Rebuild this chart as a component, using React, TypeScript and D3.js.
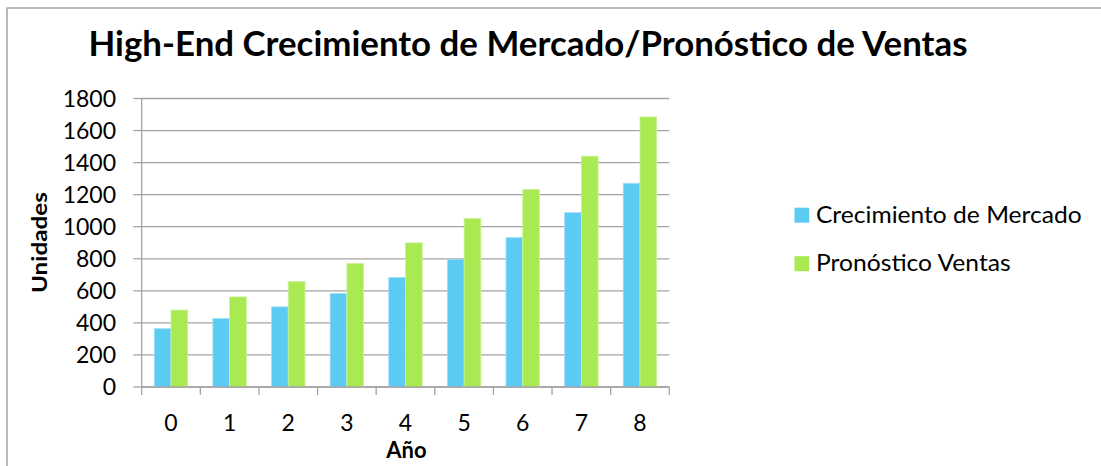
import React from "react";
import * as d3 from "d3";

const years = ["0", "1", "2", "3", "4", "5", "6", "7", "8"];
const seriesNames = ["Crecimiento de Mercado", "Pronóstico Ventas"];
const crecimiento = [364, 427, 500, 583, 683, 797, 932, 1088, 1271];
const pronostico = [480, 562, 658, 770, 899, 1051, 1232, 1440, 1685];
const yTicks = [0, 200, 400, 600, 800, 1000, 1200, 1400, 1600, 1800];
const colors = ["#5ccbf4", "#a9ea52"];
const title = "High-End Crecimiento de Mercado/Pronóstico de Ventas";

const W = 1101;
const H = 466;
const FONT = "Lato, 'Open Sans', sans-serif";

export default function App() {
  const left = 141.7;
  const right = 669.3;
  const top = 98.5;
  const bottom = 387;

  const x0 = d3.scaleBand<string>().domain(years).range([left, right]).padding(0);
  const x1 = d3
    .scaleBand<string>()
    .domain(seriesNames)
    .range([0, x0.bandwidth()])
    .paddingInner(0)
    .paddingOuter(0.75);
  const y = d3.scaleLinear().domain([0, 1800]).range([bottom, top]);

  const series = [crecimiento, pronostico];
  const grid = "#a3a3a3";
  const tickPositions = years.map((yr) => x0(yr) as number).concat([right]);

  return (
    <svg
      width={W}
      height={H}
      style={{ position: "absolute", left: 0, top: 0, background: "#fff" }}
      fontFamily={FONT}
    >
      <rect x={0} y={0} width={W} height={H} fill="#fff" />
      {/* chart border */}
      <path d={`M7,${H + 5} L7,8 L${W + 5},8`} fill="none" stroke="#a8a8a8" strokeWidth={1.6} />

      {/* title */}
      <text
        x={88.5}
        y={55.5}
        fontSize={34}
        fontWeight="bold"
        fill="#000"
        textLength={879}
        lengthAdjust="spacingAndGlyphs"
      >
        {title}
      </text>

      {/* gridlines */}
      {yTicks.map((t) => (
        <line key={"g" + t} x1={left} x2={right} y1={y(t)} y2={y(t)} stroke={grid} strokeWidth={1.3} />
      ))}
      {/* y axis */}
      <line x1={left} x2={left} y1={top} y2={bottom} stroke={grid} strokeWidth={1.3} />
      {yTicks.map((t) => (
        <line key={"yt" + t} x1={133.3} x2={left} y1={y(t)} y2={y(t)} stroke={grid} strokeWidth={1.3} />
      ))}
      {yTicks.map((t) => (
        <text key={"yl" + t} x={116} y={y(t) + 8} textAnchor="end" fontSize={23} fill="#000">
          {t}
        </text>
      ))}

      {/* bars */}
      {years.map((yr, i) => (
        <g key={"b" + yr} transform={`translate(${x0(yr)},0)`}>
          {seriesNames.map((s, j) => (
            <rect
              key={s}
              x={x1(s)}
              y={y(series[j][i])}
              width={x1.bandwidth()}
              height={bottom - y(series[j][i])}
              fill={colors[j]}
              stroke={j === 0 ? "#9fdff7" : "#cbf19a"}
              strokeWidth={0.8}
            />
          ))}
        </g>
      ))}

      {/* x axis */}
      <line x1={left} x2={right} y1={bottom} y2={bottom} stroke={grid} strokeWidth={1.3} />
      {tickPositions.map((p, i) => (
        <line key={"xt" + i} x1={p} x2={p} y1={bottom} y2={395} stroke={grid} strokeWidth={1.3} />
      ))}
      {years.map((yr) => (
        <text
          key={"xl" + yr}
          x={(x0(yr) as number) + x0.bandwidth() / 2}
          y={431}
          textAnchor="middle"
          fontSize={23}
          fill="#000"
        >
          {yr}
        </text>
      ))}

      {/* axis titles */}
      <text x={406.5} y={457.5} textAnchor="middle" fontSize={22} fontWeight="bold" fill="#000">
        Año
      </text>
      <text
        transform={`translate(46.5,242.5) rotate(-90)`}
        textAnchor="middle"
        fontSize={21}
        fontWeight="bold"
        fill="#000"
        textLength={101}
        lengthAdjust="spacingAndGlyphs"
      >
        Unidades
      </text>

      {/* legend */}
      {seriesNames.map((s, j) => (
        <g key={"lg" + s}>
          <rect x={794.5} y={207.7 + j * 48.5} width={14.7} height={15} fill={colors[j]} />
          <text
            x={816}
            y={222.7 + j * 48.5}
            fontSize={24}
            fill="#000"
            textLength={j === 0 ? 265.7 : 194.7}
            lengthAdjust="spacingAndGlyphs"
          >
            {s}
          </text>
        </g>
      ))}
    </svg>
  );
}
